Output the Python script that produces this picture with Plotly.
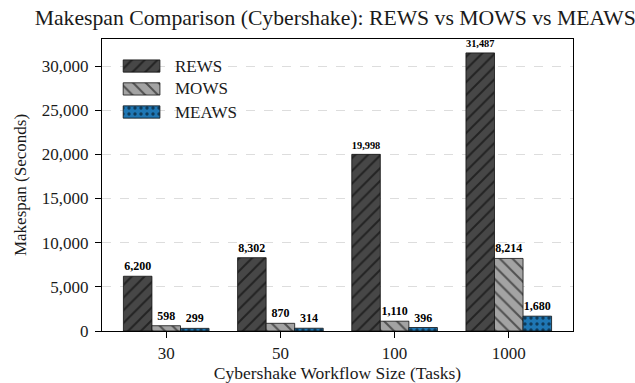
import plotly.graph_objects as go

categories = ["30", "50", "100", "1000"]
rews = [6200, 8302, 19998, 31487]
mows = [598, 870, 1110, 8214]
meaws = [299, 314, 396, 1680]
series_names = ["REWS", "MOWS", "MEAWS"]

FONT = "Liberation Serif"
TXT = "#1a1a1a"

styles = [
    dict(color="#474747", shape="/", size=9, solidity=0.22),
    dict(color="#a3a3a3", shape="\\", size=9, solidity=0.22),
    dict(color="#1f77b4", shape=".", size=6, solidity=0.25),
]

fig = go.Figure()
for name, vals, st in zip(series_names, [rews, mows, meaws], styles):
    fig.add_trace(go.Bar(
        x=categories, y=vals, name=name,
        marker=dict(
            color=st["color"],
            line=dict(color="#111111", width=0.8),
            pattern=dict(shape=st["shape"], fgcolor="#000000", bgcolor=st["color"],
                         size=st["size"], solidity=st["solidity"], fillmode="overlay"),
        ),
        texttemplate="%{y:,}", textposition="outside",
        textfont=dict(family=FONT, size=12, color="black", weight="bold"),
        cliponaxis=False, showlegend=False,
    ))

# custom legend (wide patterned swatches) drawn on an overlay axis in plot-fraction units
leg_x0, leg_x1, leg_h = 0.045, 0.123, 0.042
leg_rows = [0.9075, 0.829, 0.75]
for name, st, yc in zip(series_names, styles, leg_rows):
    fig.add_trace(go.Scatter(
        x=[leg_x0, leg_x1, leg_x1, leg_x0, leg_x0],
        y=[yc - leg_h / 2, yc - leg_h / 2, yc + leg_h / 2, yc + leg_h / 2, yc - leg_h / 2],
        xaxis="x2", yaxis="y2", mode="lines", fill="toself",
        fillcolor=st["color"], line=dict(color="#111111", width=0.8),
        fillpattern=dict(shape=st["shape"], fgcolor="#000000", bgcolor=st["color"],
                         size=st["size"], solidity=st["solidity"], fillmode="overlay"),
        hoverinfo="skip", showlegend=False,
    ))
    fig.add_annotation(x=0.151, y=yc, xref="paper", yref="paper", text=name,
                       showarrow=False, xanchor="left", yanchor="middle",
                       font=dict(family=FONT, size=17, color=TXT))

fig.update_layout(
    width=635, height=383,
    margin=dict(l=102, r=62, t=39, b=52),
    paper_bgcolor="white", plot_bgcolor="white",
    barmode="group", bargap=0.25, bargroupgap=0,
    font=dict(family=FONT, size=17, color=TXT),
    title=dict(text="Makespan Comparison (Cybershake): REWS vs MOWS vs MEAWS",
               x=0.528, xanchor="center", y=0.975, yanchor="top",
               font=dict(size=21.7, family=FONT, color=TXT)),
    showlegend=False,
    xaxis2=dict(overlaying="x", range=[0, 1], visible=False, fixedrange=True),
    yaxis2=dict(overlaying="y", range=[0, 1], visible=False, fixedrange=True),
)
fig.update_layout(xaxis=dict(
    type="category", range=[-0.5625, 3.5625], automargin=False,
    showline=True, linecolor="black", linewidth=1.2, mirror=True,
    ticks="outside", ticklen=6, tickcolor="black",
    title=dict(text="Cybershake Workflow Size (Tasks)", font=dict(size=17.5), standoff=6),
    tickfont=dict(size=17), showgrid=False,
))
fig.update_layout(yaxis=dict(
    range=[0, 33061], tickvals=[0, 5000, 10000, 15000, 20000, 25000, 30000],
    tickformat=",d", automargin=False,
    showline=True, linecolor="black", linewidth=1.2, mirror=True,
    ticks="outside", ticklen=6, tickcolor="black", ticklabelstandoff=3,
    showgrid=True, gridcolor="#dddddd", griddash="dash", gridwidth=1,
    title=dict(text="Makespan (Seconds)", font=dict(size=17), standoff=10),
    tickfont=dict(size=17), zeroline=False,
))

fig.write_html("out.html")
